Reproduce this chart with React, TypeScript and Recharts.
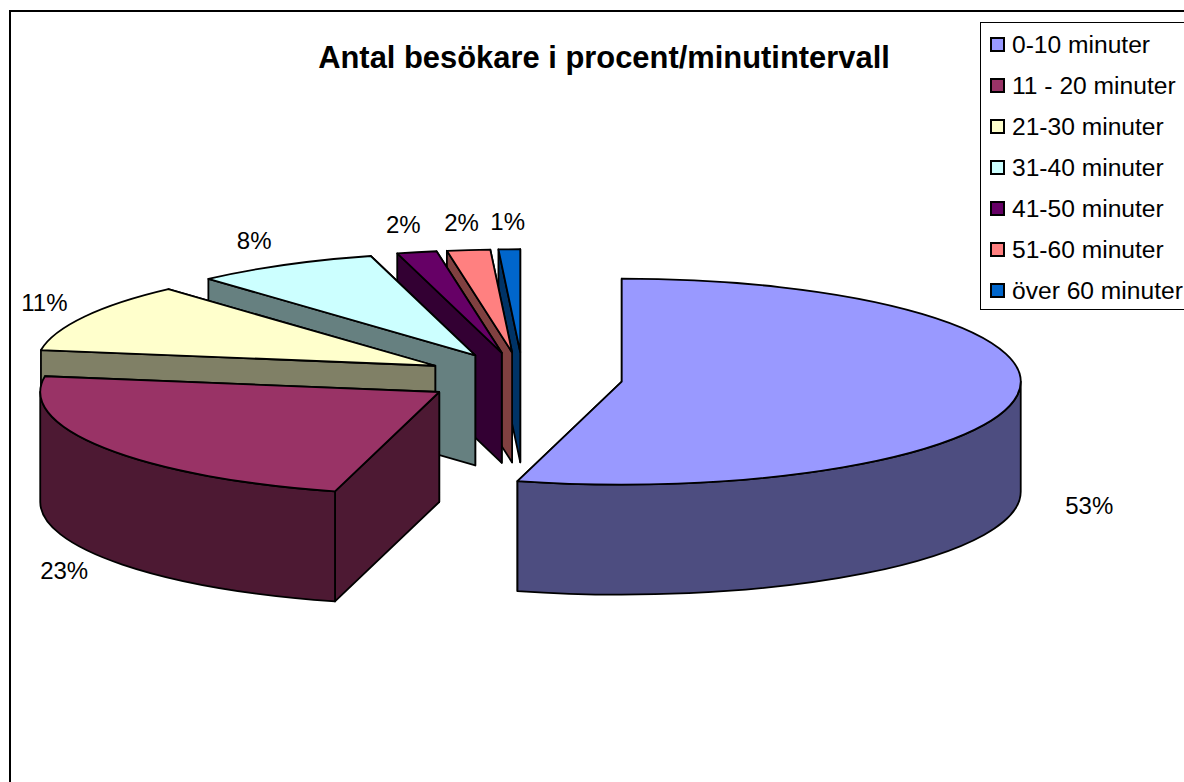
import React from 'react';
import { PieChart, Pie, Legend } from 'recharts';

const categories = ['0-10 minuter', '11 - 20 minuter', '21-30 minuter', '31-40 minuter', '41-50 minuter', '51-60 minuter', 'över 60 minuter'];
// unrounded shares, labels show them rounded
const shares = [53.49, 23.45, 11.1, 7.6, 1.64, 1.78, 0.89];
const colors = ['#9999FF', '#993366', '#FFFFCC', '#CCFFFF', '#660066', '#FF8080', '#0066CC'];
const sideColors = ['#4D4D80', '#4D1933', '#808066', '#668080', '#330033', '#804040', '#003366'];

// painted back to front: the small slices behind, so the list runs backwards
const rows = categories
  .map((name, i) => ({ name, value: shares[i], fill: colors[i], side: sideColors[i] }))
  .reverse();

const TILT = 103 / 399;
const DEPTH = 110;
const EXPLODE = 0.25;
const RAD = Math.PI / 180;

// slight perspective stretch of the angles, degrees clockwise from 12 o'clock
const warp = (deg: number) => deg + 2.5 * Math.sin((deg / 2) * RAD);

const onRim = (ax: number, ay: number, r: number, screenDeg: number) => {
  const a = screenDeg * RAD;
  return [ax + r * Math.sin(a), ay - r * TILT * Math.cos(a)];
};

const rimPoint = (ax: number, ay: number, r: number, deg: number) => onRim(ax, ay, r, warp(deg));

const apex = (cx: number, cy: number, r: number, midDeg: number) => {
  const a = warp(midDeg) * RAD;
  return [cx + EXPLODE * r * Math.sin(a), cy - EXPLODE * r * TILT * Math.cos(a)];
};

const Slice3D = (props: any) => {
  const { cx, cy, outerRadius: r, startAngle, endAngle, fill, payload } = props;
  const from = 450 - endAngle;
  const to = 450 - startAngle;
  const [ax, ay] = apex(cx, cy, r, (from + to) / 2);
  const [x0, y0] = rimPoint(ax, ay, r, from);
  const [x1, y1] = rimPoint(ax, ay, r, to);
  const side = payload.side ?? props.side;
  const ry = r * TILT;
  const large = warp(to) - warp(from) > 180 ? 1 : 0;

  const top = `M${ax},${ay}L${x0},${y0}A${r},${ry} 0 ${large} 1 ${x1},${y1}Z`;
  const face = (x: number, y: number) =>
    `M${ax},${ay}L${x},${y}L${x},${y + DEPTH}L${ax},${ay + DEPTH}Z`;

  // outer wall only shows on the front half of the rim
  const wallFrom = Math.max(warp(from), 90);
  const wallTo = Math.min(warp(to), 270);
  let wall = null;
  if (wallTo > wallFrom) {
    const [wx0, wy0] = onRim(ax, ay, r, wallFrom);
    const [wx1, wy1] = onRim(ax, ay, r, wallTo);
    wall =
      `M${wx0},${wy0}A${r},${ry} 0 0 1 ${wx1},${wy1}` +
      `L${wx1},${wy1 + DEPTH}A${r},${ry} 0 0 0 ${wx0},${wy0 + DEPTH}Z`;
  }

  const line = { stroke: '#000', strokeWidth: 1.8, strokeLinejoin: 'round' as const };
  return (
    <g>
      <path d={face(x1, y1)} fill={side} {...line} />
      <path d={face(x0, y0)} fill={side} {...line} />
      {wall && <path d={wall} fill={side} {...line} />}
      <path d={top} fill={fill} {...line} />
    </g>
  );
};

const renderLabel = (props: any) => {
  const { cx, cy, outerRadius: r, midAngle, value } = props;
  const mid = 450 - midAngle;
  const s = Math.sin(mid * RAD);
  const c = Math.cos(mid * RAD);
  const [ax, ay] = apex(cx, cy, r, mid);
  const [rx, ry] = rimPoint(ax, ay, r, mid);
  const reach = s > 0 ? 73 * s : -Math.min(-62 * s, 40);
  const x = rx + reach;
  const y = c > 0 ? ry - 26 * c : ry + DEPTH - 30 * c - 2.5;
  return (
    <text x={x} y={y - 2} textAnchor="middle" dominantBaseline="central" fontSize={24} fill="#000" fontFamily="Liberation Sans">
      {Math.round(value)}%
    </text>
  );
};

const renderLegend = () => (
  <div style={{ width: 260, height: 288, border: '1px solid #000', background: '#fff', boxSizing: 'border-box', paddingTop: 1 }}>
    {categories.map((name, i) => (
      <div key={name} style={{ height: 41, display: 'flex', alignItems: 'center', fontFamily: 'Liberation Sans', fontSize: 24.6, whiteSpace: 'nowrap', color: '#000' }}>
        <span style={{ width: 11, height: 11, marginLeft: 9, marginRight: 7, border: '2px solid #000', background: colors[i], display: 'inline-block', boxSizing: 'content-box', flexShrink: 0 }} />
        {name}
      </div>
    ))}
  </div>
);

export default function App() {
  return (
    <div style={{ position: 'absolute', left: 0, top: 0, width: 1184, height: 782, overflow: 'hidden', background: '#fff' }}>
      <div style={{ position: 'absolute', left: 9, top: 10, width: 1300, height: 900, border: '2px solid #000' }} />
      <PieChart width={1184} height={782} margin={{ top: 0, right: 0, bottom: 0, left: 0 }}>
        <text x={604} y={57} textAnchor="middle" dominantBaseline="central" fontFamily="Liberation Sans" fontWeight="bold" fontSize={30.9}>
          Antal besökare i procent/minutintervall
        </text>
        <Pie
          data={rows}
          dataKey="value"
          nameKey="name"
          cx={523}
          cy={378}
          outerRadius={399}
          startAngle={90}
          endAngle={450}
          shape={Slice3D}
          label={renderLabel}
          labelLine={false}
          isAnimationActive={false}
        />
        <Legend content={renderLegend} wrapperStyle={{ position: 'absolute', left: 980, top: 22, width: 260, bottom: 'auto', right: 'auto' }} />
      </PieChart>
    </div>
  );
}
